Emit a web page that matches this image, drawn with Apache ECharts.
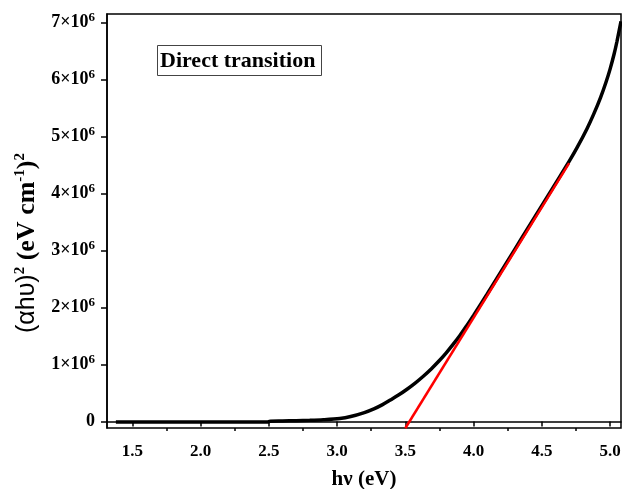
<!DOCTYPE html>
<html>
<head>
<meta charset="utf-8">
<script src="https://cdn.jsdelivr.net/npm/echarts@6/dist/echarts.min.js"></script>
<style>
  html, body { margin: 0; padding: 0; background: #fff; }
  #chart { width: 622px; height: 489px; }
</style>
</head>
<body>
<div id="chart"></div>
<script>
// Photon energy (eV) and Tauc quantity (αhν)² in (eV cm⁻¹)²
const hv = [1.38, 1.6, 1.8, 2.0, 2.2, 2.4, 2.49, 2.51, 2.6, 2.7, 2.8, 2.9, 3.02, 3.1, 3.2, 3.27, 3.33, 3.39,
  3.45, 3.51, 3.57, 3.63, 3.69, 3.75, 3.8, 3.85, 3.9, 3.95, 4.0, 4.1, 4.2, 4.3, 4.4, 4.5, 4.6, 4.7, 4.76,
  4.83, 4.88, 4.93, 4.97, 5.0, 5.03, 5.05, 5.08];
const alphaHv2 = [-12000, -12000, -12000, -12000, -12000, -12000, -12000, 4000, 8000, 12000, 18000, 28000,
  50000, 85000, 155000, 220000, 290000, 375000, 462000, 560000, 668000, 788000, 920000, 1067000, 1202000,
  1350000, 1507000, 1680000, 1860000, 2235000, 2622000, 3010000, 3397000, 3785000, 4172000, 4560000,
  4810000, 5130000, 5390000, 5680000, 5950000, 6180000, 6450000, 6660000, 7020000];

// Linear extrapolation of the absorption edge
const fitHv = [3.5, 4.7];
const fitY = [-120000, 4530000];

// Axis ticks
const xMajor = [1.5, 2.0, 2.5, 3.0, 3.5, 4.0, 4.5, 5.0];
const xMinor = [1.75, 2.25, 2.75, 3.25, 3.75, 4.25, 4.75];
const yMajor = [0, 1e6, 2e6, 3e6, 4e6, 5e6, 6e6, 7e6];

const serif = 'Liberation Serif';
const chart = echarts.init(document.getElementById('chart'));

const zip = (a, b) => a.map((v, i) => [v, b[i]]);

chart.setOption({
  animation: false,
  backgroundColor: '#fff',
  grid: {
    left: 107, right: 1, top: 14, bottom: 61,
    containLabel: false, outerBoundsMode: 'none',
    show: true, borderColor: '#000', borderWidth: 1.5, backgroundColor: 'transparent'
  },
  title: {
    text: 'Direct transition',
    left: 157, top: 45,
    borderColor: '#444', borderWidth: 1,
    padding: [5, 6, 4, 3],
    textStyle: { fontFamily: serif, fontWeight: 'bold', fontSize: 22, color: '#000', lineHeight: 22 }
  },
  xAxis: [{
    type: 'value', min: 1.315, max: 5.08,
    name: 'hν (eV)', nameLocation: 'middle', nameGap: 41,
    nameTextStyle: { fontFamily: serif, fontWeight: 'bold', fontSize: 21, color: '#000' },
    axisLine: { show: true, lineStyle: { color: '#000', width: 1.5 } },
    axisTick: { show: true, inside: false, length: 5, customValues: xMajor, lineStyle: { color: '#000', width: 1.5 } },
    axisLabel: {
      customValues: xMajor, margin: 15,
      formatter: v => v.toFixed(1),
      fontFamily: serif, fontWeight: 'bold', fontSize: 17, color: '#000'
    },
    splitLine: { show: false }
  }, {
    type: 'value', min: 1.315, max: 5.08, position: 'bottom',
    axisLine: { show: false },
    axisTick: { show: true, inside: false, length: 3, customValues: xMinor, lineStyle: { color: '#000', width: 1.5 } },
    axisLabel: { show: false },
    splitLine: { show: false }
  }],
  yAxis: {
    type: 'value', min: -116000, max: 7147000,
    axisLine: { show: true, lineStyle: { color: '#000', width: 1.5 } },
    axisTick: { show: true, inside: false, length: 6, customValues: yMajor, lineStyle: { color: '#000', width: 1.5 } },
    axisLabel: {
      customValues: yMajor, margin: 12,
      formatter: v => v === 0 ? '{b|0}' : '{b|' + Math.round(v / 1e6) + '×10}{s|6}',
      rich: {
        b: { fontFamily: serif, fontWeight: 'bold', fontSize: 18, color: '#000' },
        s: { fontFamily: serif, fontWeight: 'bold', fontSize: 13, color: '#000', padding: [0, 0, 9, 0] }
      }
    },
    splitLine: { show: false }
  },
  graphic: [{
    type: 'text',
    x: 27, y: 243,
    rotation: Math.PI / 2,
    style: {
      text: '{a|(αhυ)}{s|2}{b| (eV cm}{s|-1}{b|)}{s|2}',
      textAlign: 'center', textVerticalAlign: 'middle',
      rich: {
        a: { fontFamily: 'Liberation Sans', fontSize: 25, color: '#000' },
        b: { fontFamily: serif, fontWeight: 'bold', fontSize: 26, color: '#000' },
        s: { fontFamily: serif, fontWeight: 'bold', fontSize: 15, color: '#000', padding: [0, 0, 13, 0] }
      }
    }
  }],
  series: [{
    type: 'line',
    data: zip(hv, alphaHv2),
    showSymbol: false,
    smooth: 0.3,
    lineStyle: { color: '#000', width: 3.5 },
    z: 2
  }, {
    type: 'line',
    data: zip(fitHv, fitY),
    showSymbol: false,
    lineStyle: { color: '#ff0000', width: 2.5 },
    z: 3
  }]
});
</script>
</body>
</html>
